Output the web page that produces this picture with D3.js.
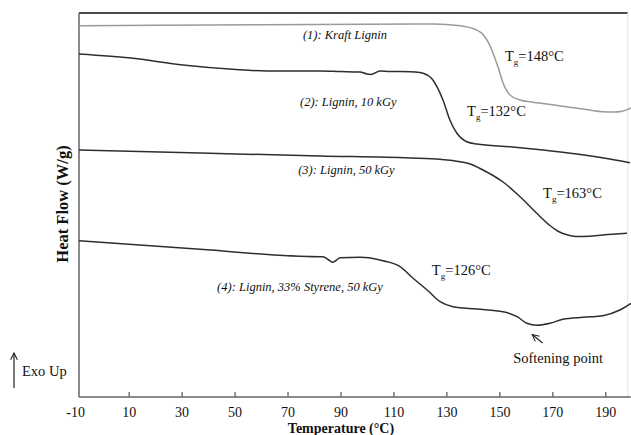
<!DOCTYPE html>
<html>
<head>
<meta charset="utf-8">
<script src="https://cdn.jsdelivr.net/npm/d3@7"></script>
<style>
  html, body { margin: 0; padding: 0; background: #fff; }
  svg { display: block; }
  text { font-family: 'Liberation Serif', 'Times New Roman', Times, serif; fill: #111; }
</style>
</head>
<body>
<svg id="chart" width="631" height="435"></svg>
<script>
// ---- Data (temperature °C, heat flow in arbitrary units, Exo Up) ----
const xTicks = [10, 30, 50, 70, 90, 110, 130, 150, 170, 190];
const xFirstLabel = -10;

const kraftLignin = [
  [-8.75, 371.3], [20, 371.7], [60, 372.2], [100, 372.7], [125, 373], [132, 372],
  [137, 370.5], [141, 367.5], [144, 362], [146.5, 351], [148, 341], [149.5, 330],
  [151.4, 314], [154, 302], [157.8, 297], [162, 295], [166.5, 293.5], [172, 291.5],
  [179, 289], [185, 286.5], [189, 285.3], [193, 285], [196, 285.5], [199.7, 289]
];
const lignin10kGy = [
  [-8.75, 343], [11.6, 338.7], [30.5, 332], [49.4, 327.7], [62.2, 326], [82.3, 326],
  [89.8, 325.5], [97.4, 325], [100, 323], [101.5, 322.5], [103, 324], [105, 326],
  [108.7, 325.5], [116.3, 325.3], [120, 324.5], [122.7, 322], [124.6, 318],
  [126.4, 310.3], [128.7, 297], [131.3, 277], [133.9, 264], [137.7, 255.3],
  [141.5, 253], [154, 250.3], [166.5, 247], [179.3, 243], [191.7, 238], [199.3, 234.3]
];
const lignin50kGy = [
  [-8.75, 247], [37, 244], [82.3, 241], [116.3, 239], [127.6, 237.7], [135.2, 235.3],
  [139, 233], [143.8, 227], [147.6, 221.5], [151.4, 215], [156.7, 203], [158.9, 197.5],
  [164.2, 183.5], [169.1, 171.5], [172, 166], [174, 163.5], [176.5, 161.5],
  [179.3, 160.5], [184, 160.8], [189.1, 162], [198.2, 163.7]
];
const ligninStyrene = [
  [-8.75, 156.3], [37, 147.7], [82.3, 140.3], [83.4, 140.3], [85.3, 137.5], [87, 134.7],
  [88.3, 136.5], [89.8, 139.3], [97.4, 139.7], [106, 136.3], [112.5, 130.3],
  [117.4, 118.7], [122.7, 107], [127.6, 95.3], [132.5, 90.3], [141.5, 88],
  [151.4, 85.3], [156.7, 80.3], [160.4, 73.7], [164.2, 71.7], [169.1, 73.7],
  [174, 77.7], [181.6, 79.7], [189.1, 81.3], [195.5, 87], [199.7, 93.7]
];

const seriesNames = ["(1): Kraft Lignin", "(2): Lignin, 10 kGy", "(3): Lignin, 50 kGy", "(4): Lignin, 33% Styrene, 50 kGy"];
const seriesColors = ["#9a9a9a", "#2e2e2e", "#2e2e2e", "#2e2e2e"];
const seriesLabelAt = [[75.8, 358], [74.7, 291], [74, 223], [43.4, 106]];
const tgValues = ["148", "132", "163", "126"];
const tgLabelAt = [[152.1, 336], [137.8, 281], [166.5, 199], [124.5, 122]];

// ---- Layout ----
const svg = d3.select("#chart");
const x = d3.scaleLinear().domain([-10, 190]).range([75.7, 605.3]);
const y = d3.scaleLinear().domain([0, 384]).range([397, 13]);
const frameLeft = x(-8.75), frameRight = x(198.5);

// Frame
svg.append("line").attr("x1", frameLeft).attr("x2", frameRight).attr("y1", y(384)).attr("y2", y(384))
  .attr("stroke", "#111").attr("stroke-width", 1.5);
svg.append("line").attr("x1", frameRight).attr("x2", frameRight).attr("y1", y(384)).attr("y2", y(0))
  .attr("stroke", "#e4e4e4").attr("stroke-width", 1);
svg.append("line").attr("x1", frameLeft).attr("x2", frameLeft).attr("y1", y(384)).attr("y2", y(0))
  .attr("stroke", "#666").attr("stroke-width", 1.5);

// X axis
const xAxis = d3.axisBottom(x).tickValues(xTicks).tickSizeInner(-5).tickSizeOuter(0).tickPadding(10)
  .tickFormat(d3.format("d"));
const gx = svg.append("g").attr("transform", `translate(0,${y(0)})`).call(xAxis);
gx.attr("font-family", null);
gx.select(".domain").remove();
gx.selectAll(".tick line").attr("stroke", "#555").attr("stroke-width", 1.2);
gx.selectAll(".tick text").attr("font-size", 14).attr("fill", "#111");
svg.append("line").attr("x1", frameLeft).attr("x2", frameRight + 3).attr("y1", y(0)).attr("y2", y(0))
  .attr("stroke", "#666").attr("stroke-width", 1.5);
svg.append("text").attr("x", x(xFirstLabel)).attr("y", y(0) + 10).attr("dy", "0.71em")
  .attr("text-anchor", "middle").attr("font-size", 14).text(xFirstLabel);

// Axis titles
svg.append("text").attr("x", 341).attr("y", 433).attr("text-anchor", "middle")
  .attr("font-size", 14).attr("font-weight", "bold").text("Temperature (°C)");
svg.append("text").attr("transform", `translate(68,${204}) rotate(-90)`).attr("text-anchor", "middle")
  .attr("font-size", 16.5).attr("font-weight", "bold").text("Heat Flow (W/g)");

// Exo Up
const defs = svg.append("defs");
defs.append("marker").attr("id", "arr").attr("viewBox", "0 0 10 10").attr("refX", 9).attr("refY", 5)
  .attr("markerWidth", 7).attr("markerHeight", 7).attr("orient", "auto-start-reverse")
  .append("path").attr("d", "M1,1 L9,5 L1,9").attr("fill", "none").attr("stroke", "#222").attr("stroke-width", 1.3);
svg.append("line").attr("x1", 14).attr("x2", 14).attr("y1", 388).attr("y2", 353)
  .attr("stroke", "#222").attr("stroke-width", 1.2).attr("marker-end", "url(#arr)");
svg.append("text").attr("x", 22).attr("y", 376).attr("font-size", 14.5).text("Exo Up");

// Curves
const line = d3.line().x(d => x(d[0])).y(d => y(d[1])).curve(d3.curveMonotoneX);
const allSeries = [kraftLignin, lignin10kGy, lignin50kGy, ligninStyrene];
svg.append("g").selectAll("path").data(allSeries).join("path")
  .attr("d", line).attr("fill", "none")
  .attr("stroke", (d, i) => seriesColors[i]).attr("stroke-width", 1.5);

// Series labels
svg.append("g").selectAll("text").data(seriesNames).join("text")
  .attr("x", (d, i) => x(seriesLabelAt[i][0])).attr("y", (d, i) => y(seriesLabelAt[i][1]))
  .attr("font-size", 12.5).attr("font-style", "italic").text(d => d);

// Tg labels
tgValues.forEach((v, i) => {
  const t = svg.append("text").attr("x", x(tgLabelAt[i][0])).attr("y", y(tgLabelAt[i][1]))
    .attr("font-size", 14.5);
  t.append("tspan").text("T");
  t.append("tspan").attr("font-size", 9).attr("dy", 4).text("g");
  t.append("tspan").attr("dy", -4).text("=" + v + "°C");
});

// Softening point annotation
const softT = 155.2, softV = 34;
svg.append("text").attr("x", x(softT)).attr("y", y(softV)).attr("font-size", 14.5).text("Softening point");
svg.append("line").attr("x1", x(166.3)).attr("y1", y(54)).attr("x2", x(162.4)).attr("y2", y(62.5))
  .attr("stroke", "#222").attr("stroke-width", 1.2).attr("marker-end", "url(#arr)");
</script>
</body>
</html>
